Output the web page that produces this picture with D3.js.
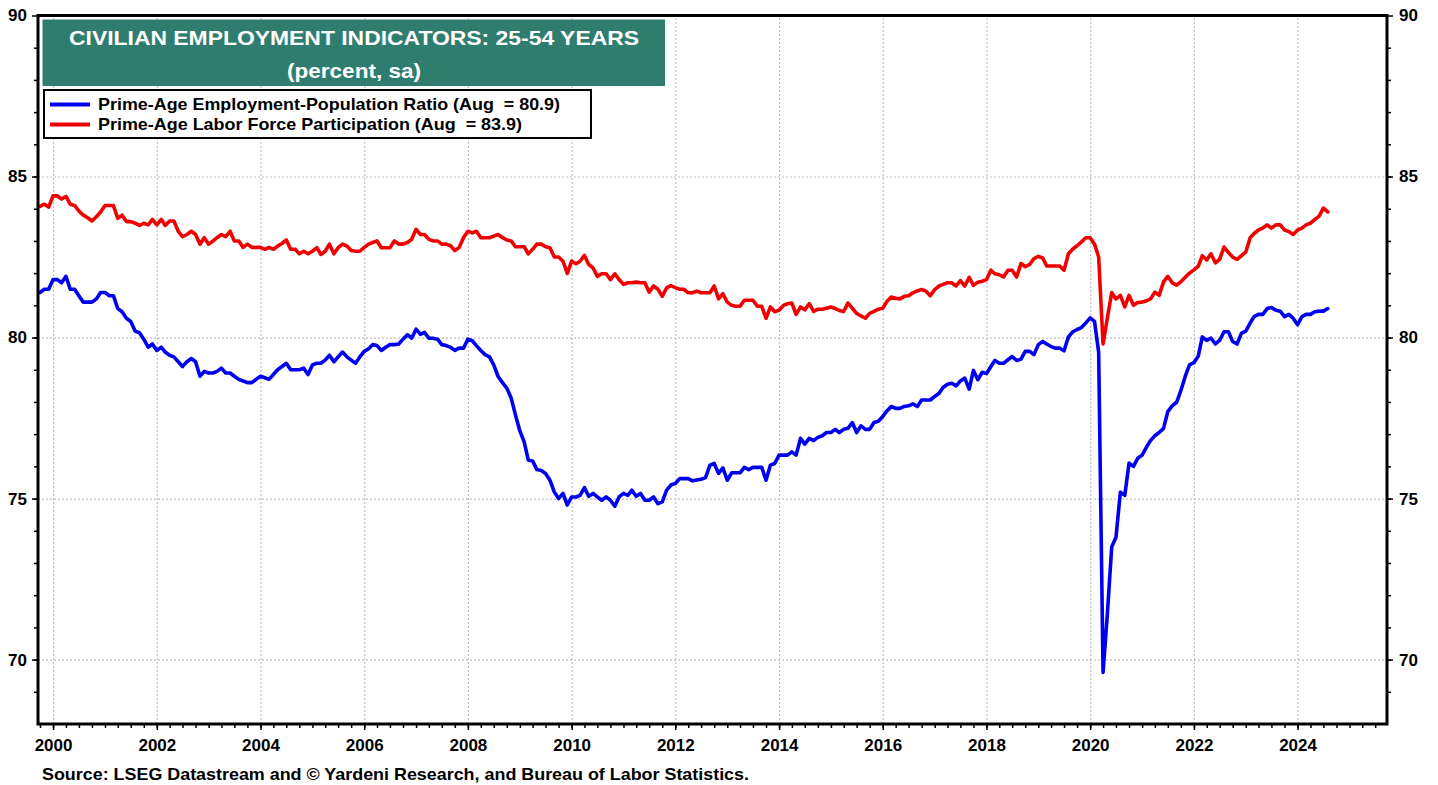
<!DOCTYPE html>
<html>
<head>
<meta charset="utf-8">
<script src="https://cdn.jsdelivr.net/npm/d3@7"></script>
<style>
  html, body { margin: 0; padding: 0; background: #fff; }
  svg { display: block; font-family: "Liberation Sans", Arial, sans-serif; font-weight: bold; }
  .grid line { stroke: #c0c0c0; stroke-width: 1.2; stroke-dasharray: 2 2; }
  .grid path { display: none; }
  .axis path { display: none; }
  .axis line { stroke: #000; stroke-width: 1.5; }
  .axis text { fill: #000; font-size: 17px; font-weight: bold; }
  .line { fill: none; stroke-width: 3.6; stroke-linejoin: round; stroke-linecap: round; }
</style>
</head>
<body>
<div id="chart"></div>
<script>
// first month of both series (Oct 1999), monthly through Aug 2024
const startYear = 1999;
const startMonth = 9;

// Prime-Age Employment-Population Ratio (blue)
const empPop = [
  81.4, 81.5, 81.5,
  81.8, 81.8, 81.7, 81.9, 81.5, 81.5, 81.3, 81.1, 81.1, 81.1, 81.2, 81.4,
  81.4, 81.3, 81.3, 80.9, 80.8, 80.6, 80.5, 80.2, 80.15, 79.95, 79.7, 79.8,
  79.6, 79.7, 79.55, 79.45, 79.4, 79.25, 79.1, 79.25, 79.35, 79.25, 78.8, 78.95,
  78.9, 78.9, 78.95, 79.05, 78.9, 78.9, 78.8, 78.7, 78.65, 78.6, 78.6, 78.7,
  78.8, 78.75, 78.7, 78.85, 79.0, 79.1, 79.2, 79.0, 79.0, 79.0, 79.05, 78.85,
  79.15, 79.2, 79.2, 79.3, 79.45, 79.25, 79.4, 79.55, 79.4, 79.3, 79.2, 79.4,
  79.57, 79.65, 79.78, 79.75, 79.6, 79.7, 79.78, 79.78, 79.8, 79.95, 80.09, 79.98,
  80.26, 80.1, 80.16, 79.98, 79.98, 79.95, 79.78, 79.75, 79.7, 79.6, 79.67, 79.67,
  79.95, 79.9, 79.75, 79.6, 79.47, 79.4, 79.15, 78.79, 78.6, 78.43, 78.12, 77.6,
  77.1, 76.75, 76.2, 76.17, 75.9, 75.87, 75.78, 75.57, 75.2, 75.0, 75.16, 74.8,
  75.05, 75.05, 75.1, 75.34, 75.07, 75.16, 75.05, 74.95, 75.05, 74.95, 74.76, 75.05,
  75.16, 75.1, 75.26, 75.07, 75.16, 74.95, 74.95, 75.05, 74.84, 74.9, 75.26, 75.42,
  75.47, 75.62, 75.62, 75.62, 75.55, 75.58, 75.6, 75.65, 76.04, 76.09, 75.78, 75.95,
  75.57, 75.8, 75.8, 75.8, 75.97, 75.9, 75.97, 75.97, 75.97, 75.57, 76.04, 76.09,
  76.35, 76.35, 76.35, 76.45, 76.35, 76.87, 76.69, 76.87, 76.8, 76.9, 76.95, 77.05,
  77.05, 77.15, 77.05, 77.15, 77.18, 77.36, 77.05, 77.26, 77.15, 77.15, 77.36, 77.4,
  77.55, 77.73, 77.86, 77.8, 77.8, 77.86, 77.88, 77.94, 77.86, 78.06, 78.06, 78.06,
  78.17, 78.27, 78.45, 78.55, 78.58, 78.5, 78.65, 78.74, 78.4, 78.98, 78.69, 78.92,
  78.88, 79.1, 79.29, 79.2, 79.2, 79.31, 79.41, 79.29, 79.33, 79.57, 79.57, 79.47,
  79.78, 79.88, 79.8, 79.72, 79.67, 79.67, 79.59, 80.02, 80.18, 80.25, 80.31, 80.45,
  80.61, 80.5, 79.54, 69.6, 71.4, 73.5, 73.8, 75.2, 75.1, 76.1, 76.0, 76.25,
  76.35, 76.6, 76.8, 76.95, 77.05, 77.18, 77.7, 77.88, 77.99, 78.35, 78.8, 79.15,
  79.22, 79.43, 80.02, 79.91, 79.98, 79.8, 79.91, 80.18, 80.18, 79.88, 79.8, 80.13,
  80.2, 80.45, 80.65, 80.72, 80.72, 80.9, 80.93, 80.85, 80.82, 80.65, 80.72, 80.6,
  80.4, 80.65, 80.72, 80.72, 80.8, 80.82, 80.82, 80.9
];

// Prime-Age Labor Force Participation (red)
const laborForce = [
  84.07, 84.14, 84.05,
  84.4, 84.4, 84.3, 84.38, 84.14, 84.1, 83.93, 83.8, 83.72, 83.62, 83.75, 83.9,
  84.1, 84.1, 84.1, 83.7, 83.8, 83.6, 83.6, 83.55, 83.48, 83.55, 83.5, 83.67,
  83.5, 83.67, 83.48, 83.62, 83.62, 83.3, 83.13, 83.2, 83.3, 83.2, 82.9, 83.1,
  82.9, 83.0, 83.1, 83.2, 83.13, 83.3, 83.0, 83.0, 82.8, 82.9, 82.8, 82.8,
  82.8, 82.74, 82.8, 82.74, 82.84, 82.92, 83.03, 82.74, 82.74, 82.6, 82.68, 82.6,
  82.68, 82.79, 82.58, 82.68, 82.9, 82.6, 82.79, 82.9, 82.84, 82.7, 82.68, 82.68,
  82.8, 82.9, 82.95, 83.0, 82.79, 82.79, 82.79, 83.0, 82.9, 82.9, 82.95, 83.05,
  83.36, 83.2, 83.2, 83.05, 83.0, 83.0, 82.9, 82.9, 82.85, 82.7, 82.8, 83.1,
  83.3, 83.25, 83.3, 83.1, 83.1, 83.1, 83.15, 83.2, 83.1, 83.03, 83.0, 82.82,
  82.82, 82.82, 82.6, 82.74, 82.9, 82.9, 82.82, 82.79, 82.5, 82.5, 82.37, 81.99,
  82.37, 82.29, 82.37, 82.55, 82.27, 82.16, 81.9, 81.98, 81.98, 81.8, 81.98, 81.8,
  81.65, 81.7, 81.7, 81.72, 81.7, 81.7, 81.41, 81.6, 81.5, 81.28, 81.54, 81.61,
  81.55, 81.5, 81.5, 81.39, 81.39, 81.44, 81.39, 81.39, 81.39, 81.6, 81.2, 81.36,
  81.1, 81.0, 80.97, 80.97, 81.16, 81.16, 81.16, 80.97, 80.97, 80.6, 80.95, 80.8,
  80.85, 81.0, 81.05, 81.07, 80.72, 80.95, 80.86, 81.05, 80.81, 80.88, 80.88, 80.91,
  80.95, 80.9, 80.84, 80.81, 81.07, 80.91, 80.75, 80.67, 80.6, 80.75, 80.81, 80.88,
  80.91, 81.13, 81.26, 81.22, 81.2, 81.28, 81.3, 81.39, 81.45, 81.49, 81.44, 81.3,
  81.49, 81.6, 81.65, 81.7, 81.7, 81.6, 81.77, 81.6, 81.87, 81.62, 81.72, 81.75,
  81.8, 82.09, 81.98, 81.95, 81.88, 82.09, 82.09, 81.88, 82.3, 82.2, 82.27, 82.45,
  82.52, 82.47, 82.22, 82.22, 82.22, 82.22, 82.09, 82.6, 82.75, 82.85, 82.97, 83.1,
  83.1, 82.9, 82.5, 79.8, 80.6, 81.4, 81.2, 81.31, 80.95, 81.31, 81.0, 81.09,
  81.1, 81.14, 81.2, 81.41, 81.31, 81.73, 81.9, 81.7, 81.63, 81.73, 81.87, 82.0,
  82.1, 82.22, 82.54, 82.41, 82.6, 82.32, 82.43, 82.81, 82.64, 82.5, 82.43, 82.54,
  82.65, 83.1, 83.23, 83.34, 83.4, 83.5, 83.4, 83.5, 83.5, 83.34, 83.29, 83.2,
  83.34, 83.4, 83.5, 83.55, 83.66, 83.77, 84.02, 83.9
];

const yearTicks = [2000, 2002, 2004, 2006, 2008, 2010, 2012, 2014, 2016, 2018, 2020, 2022, 2024];
const yTicks = [70, 75, 80, 85, 90];

const titleLines = ['CIVILIAN EMPLOYMENT INDICATORS: 25-54 YEARS', '(percent, sa)'];
const legendLabels = [
  'Prime-Age Employment-Population Ratio (Aug  = 80.9)',
  'Prime-Age Labor Force Participation (Aug  = 83.9)'
];
const sourceText = 'Source: LSEG Datastream and \u00A9 Yardeni Research, and Bureau of Labor Statistics.';

const W = 1438, H = 785;
const plot = { left: 38, right: 1387, top: 15.5, bottom: 724 };

const svg = d3.select('#chart').append('svg')
  .attr('width', W).attr('height', H)
  .attr('viewBox', `0 0 ${W} ${H}`);

const x = d3.scaleTime()
  .domain([new Date(1999, 8, 17), new Date(2025, 8, 22)])
  .range([plot.left, plot.right]);

const y = d3.scaleLinear()
  .domain([68, 90])
  .range([plot.bottom, plot.top]);

const toSeries = vals => vals.map((v, i) => ({ date: new Date(startYear, startMonth + i, 1), v }));
const yearDates = yearTicks.map(yr => new Date(yr, 0, 1));

// Grid
svg.append('g')
  .attr('class', 'grid')
  .attr('transform', `translate(0,${plot.bottom})`)
  .call(d3.axisBottom(x).tickValues(yearDates).tickSize(-(plot.bottom - plot.top)).tickFormat(''));

svg.append('g')
  .attr('class', 'grid')
  .attr('transform', `translate(${plot.left},0)`)
  .call(d3.axisLeft(y).tickValues(yTicks.filter(t => t < 90)).tickSize(-(plot.right - plot.left)).tickFormat(''));

// Lines
svg.append('clipPath').attr('id', 'clip')
  .append('rect')
  .attr('x', plot.left).attr('y', plot.top)
  .attr('width', plot.right - plot.left).attr('height', plot.bottom - plot.top);

const lineGen = d3.line()
  .x(d => x(d.date))
  .y(d => y(d.v));

svg.append('path')
  .datum(toSeries(empPop))
  .attr('class', 'line')
  .attr('clip-path', 'url(#clip)')
  .attr('stroke', '#0000f0')
  .attr('d', lineGen);

svg.append('path')
  .datum(toSeries(laborForce))
  .attr('class', 'line')
  .attr('clip-path', 'url(#clip)')
  .attr('stroke', '#f00000')
  .attr('d', lineGen);

// Axes: minor ticks
const minorY = d3.range(69, 90);

svg.append('g').attr('class', 'axis')
  .attr('transform', `translate(0,${plot.bottom})`)
  .call(d3.axisBottom(x).ticks(d3.timeMonth.every(3)).tickSize(4).tickFormat(''));

svg.append('g').attr('class', 'axis')
  .attr('transform', `translate(${plot.left},0)`)
  .call(d3.axisLeft(y).tickValues(minorY).tickSize(4).tickFormat(''));

svg.append('g').attr('class', 'axis')
  .attr('transform', `translate(${plot.right},0)`)
  .call(d3.axisRight(y).tickValues(minorY).tickSize(4).tickFormat(''));

// Axes: major ticks with labels
svg.append('g').attr('class', 'axis')
  .attr('transform', `translate(0,${plot.bottom})`)
  .call(d3.axisBottom(x).tickValues(yearDates).tickSize(6).tickPadding(9).tickFormat(d3.timeFormat('%Y')));

svg.append('g').attr('class', 'axis')
  .attr('transform', `translate(${plot.left},0)`)
  .call(d3.axisLeft(y).tickValues(yTicks).tickSize(6).tickPadding(5));

svg.append('g').attr('class', 'axis')
  .attr('transform', `translate(${plot.right},0)`)
  .call(d3.axisRight(y).tickValues(yTicks).tickSize(6).tickPadding(6));

// Frame
svg.append('rect')
  .attr('x', plot.left).attr('y', plot.top)
  .attr('width', plot.right - plot.left).attr('height', plot.bottom - plot.top)
  .attr('fill', 'none')
  .attr('stroke', '#000')
  .attr('stroke-width', 3);

// Title box
svg.append('rect')
  .attr('x', 42.5).attr('y', 19.5)
  .attr('width', 622.5).attr('height', 66.5)
  .attr('fill', '#2f7d6f');

const titleWidths = [570, 134];
svg.selectAll('.title')
  .data(titleLines)
  .enter()
  .append('text')
  .attr('class', 'title')
  .attr('x', 354)
  .attr('y', (d, i) => i === 0 ? 45 : 78)
  .attr('text-anchor', 'middle')
  .attr('fill', '#fff')
  .attr('textLength', (d, i) => titleWidths[i])
  .attr('lengthAdjust', 'spacingAndGlyphs')
  .style('font-size', '21px')
  .text(d => d);

// Legend
const legend = svg.append('g');
legend.append('rect')
  .attr('x', 44).attr('y', 90)
  .attr('width', 547).attr('height', 48)
  .attr('fill', '#fff')
  .attr('stroke', '#000')
  .attr('stroke-width', 2);

const legendColors = ['#0000f0', '#f00000'];
const legendWidths = [462, 424];
legendLabels.forEach((label, i) => {
  const ly = 104.5 + i * 20;
  legend.append('line')
    .attr('x1', 50).attr('x2', 90)
    .attr('y1', ly).attr('y2', ly)
    .attr('stroke', legendColors[i])
    .attr('stroke-width', 4);
  legend.append('text')
    .attr('x', 98).attr('y', ly + 5.5)
    .attr('textLength', legendWidths[i])
    .attr('lengthAdjust', 'spacingAndGlyphs')
    .style('font-size', '17px')
    .style('white-space', 'pre')
    .text(label);
});

// Source
svg.append('text')
  .attr('x', 42).attr('y', 780)
  .attr('textLength', 707)
  .attr('lengthAdjust', 'spacingAndGlyphs')
  .style('font-size', '17px')
  .text(sourceText);
</script>
</body>
</html>
